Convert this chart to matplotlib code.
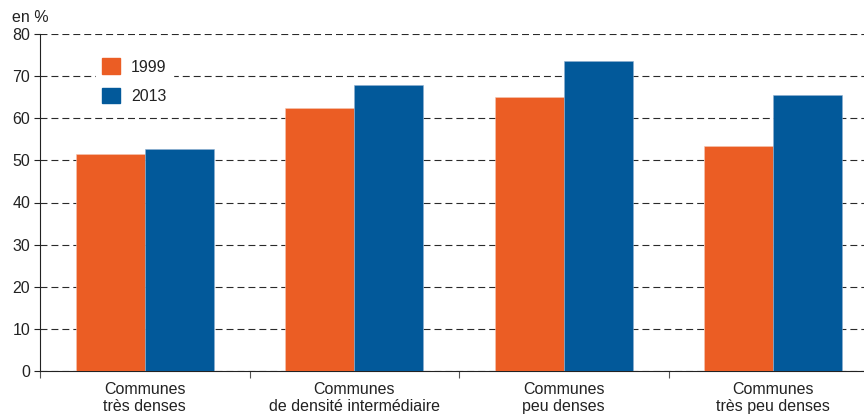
import matplotlib.pyplot as plt
import numpy as np
from matplotlib.patches import Patch

plt.rcParams['font.family'] = ['Liberation Sans', 'DejaVu Sans']

# Données
categories = ["Communes\ntrès denses", "Communes\nde densité intermédiaire",
              "Communes\npeu denses", "Communes\ntrès peu denses"]
series_labels = ["1999", "2013"]
values_1999 = [51.5, 62.4, 65.0, 53.4]
values_2013 = [52.7, 67.9, 73.6, 65.5]
colors = ["#EB5D24", "#02599A"]

fs = 11.5

fig = plt.figure(figsize=(8.64, 4.16), dpi=100)
ax = fig.add_axes([40 / 864, 45 / 416, 838 / 864, 337 / 416])

x = np.arange(len(categories))
w = 0.33
ax.bar(x - w / 2, values_1999, width=w, color=colors[0], edgecolor="#f4c7b3", linewidth=0.4, zorder=3)
ax.bar(x + w / 2, values_2013, width=w, color=colors[1], edgecolor="#8fb0d0", linewidth=0.4, zorder=3)

ax.set_xlim(-0.5, len(categories) - 0.5)
ax.set_ylim(0, 80)
ax.set_yticks(range(0, 81, 10))
ax.yaxis.grid(True, linestyle=(0, (6.25, 3.6)), color="#2a2a2a", linewidth=0.8, zorder=0)
ax.tick_params(axis="y", length=4, width=0.8, labelsize=fs, pad=3, color="#222222", labelcolor="#222222")

# graduations entre les groupes, libellés au centre
ax.set_xticks(np.arange(-0.5, len(categories), 1.0))
ax.set_xticklabels([])
ax.set_xticks(x, minor=True)
ax.set_xticklabels(categories, minor=True, fontsize=fs, linespacing=1.15, color="#222222")
ax.tick_params(axis="x", which="major", length=5, width=0.8, color="#555555")
ax.tick_params(axis="x", which="minor", length=0, pad=8)

for s in ["top", "right"]:
    ax.spines[s].set_visible(False)
ax.spines["left"].set_color("#222222")
ax.spines["bottom"].set_color("#222222")

fig.text(12 / 864, 1 - 18 / 416, "en %", fontsize=fs, va="center", ha="left", color="#222222")

handles = [Patch(color=c) for c in colors]
leg = ax.legend(handles, series_labels, loc="upper left", bbox_to_anchor=(0.057, 0.97),
                frameon=True, fontsize=fs, handlelength=1.1, handleheight=1.1,
                handletextpad=0.7, labelspacing=0.85, borderpad=0.4, labelcolor="#222222")
leg.get_frame().set_edgecolor("white")
leg.get_frame().set_facecolor("white")
leg.get_frame().set_alpha(1)
leg.set_zorder(4)

fig.savefig("out.png", dpi=100)
